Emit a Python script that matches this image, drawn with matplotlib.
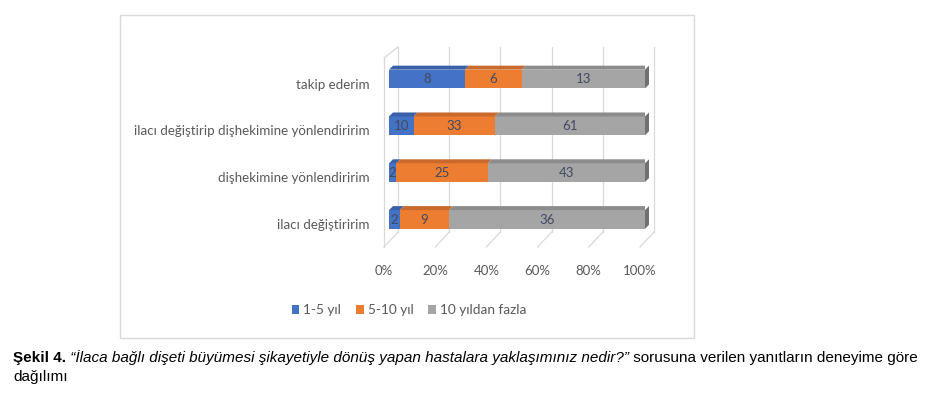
import matplotlib
matplotlib.use('Agg')
import matplotlib.pyplot as plt
from matplotlib.patches import Polygon, Rectangle, Patch
from matplotlib.transforms import ScaledTranslation

categories = ["ilacı değiştiririm", "dişhekimine yönlendiririm",
              "ilacı değiştirip dişhekimine yönlendiririm", "takip ederim"]
series_names = ["1-5 yıl", "5-10 yıl", "10 yıldan fazla"]
v_1_5 = [2, 2, 10, 8]
v_5_10 = [9, 25, 33, 6]
v_10p = [36, 43, 61, 13]
xticks = [0, 20, 40, 60, 80, 100]
xtick_labels = ["0%", "20%", "40%", "60%", "80%", "100%"]

colors = ['#4472C4', '#ED7D31', '#A5A5A5']
top_colors = ['#3A60AA', '#C96A2C', '#8C8C8C']
side_color = '#707070'
grid_c = '#D9D9D9'
txt_c = '#595959'
lab_c = '#404A60'
FONT = 'Lato'

W, H = 937, 401
fig = plt.figure(figsize=(W / 100, H / 100), dpi=100)


def fx(px):
    return px / W


def fy(py):
    return 1 - py / H


# chart border
fig.patches.append(Rectangle((fx(120), fy(338)), (694 - 120) / W, (338 - 15) / H,
                             transform=fig.transFigure, fill=False,
                             edgecolor='#D9D9D9', linewidth=1.0))

ax_l, ax_r, ax_t, ax_b = 389, 645, 47, 247
ax = fig.add_axes([fx(ax_l), fy(ax_b), (ax_r - ax_l) / W, (ax_b - ax_t) / H])
ylo, yhi = -0.588, 3.684
ax.set_xlim(0, 100)
ax.set_ylim(ylo, yhi)
px_x = 100 / (ax_r - ax_l)
px_y = (yhi - ylo) / (ax_b - ax_t)

for s in ax.spines.values():
    s.set_visible(False)
ax.set_facecolor('none')

# 3D walls / gridlines
y_back_floor = ylo + 15 * px_y
for xt in xticks:
    bx = xt + 9 * px_x
    fxp = xt - 5 * px_x
    ax.plot([bx, bx], [y_back_floor, yhi], color=grid_c, lw=0.9, clip_on=False, zorder=0)
    ax.plot([bx, fxp], [y_back_floor, ylo], color=grid_c, lw=0.9, clip_on=False, zorder=0)
lw_x = -5 * px_x
ax.plot([lw_x, lw_x], [ylo, yhi - 11 * px_y], color=grid_c, lw=0.9, clip_on=False, zorder=0)
ax.plot([lw_x, 9 * px_x], [yhi - 11 * px_y, yhi], color=grid_c, lw=0.9, clip_on=False, zorder=0)

# bars
ypos = list(range(len(categories)))
bh = 0.40
dx, dy = 4 * px_x, 4 * px_y
series = [v_1_5, v_5_10, v_10p]
totals = [a + b + c for a, b, c in zip(v_1_5, v_5_10, v_10p)]
lefts = [0.0] * len(categories)
for si, vals in enumerate(series):
    pct = [v / t * 100 for v, t in zip(vals, totals)]
    ax.barh(ypos, pct, left=lefts, height=bh, color=colors[si], edgecolor='none', zorder=3)
    for i, (p, l, v) in enumerate(zip(pct, lefts, vals)):
        top = ypos[i] + bh / 2
        ax.add_patch(Polygon([(l, top), (l + p, top), (l + p + dx, top + dy), (l + dx, top + dy)],
                             closed=True, facecolor=top_colors[si], edgecolor='none', zorder=3))
        if si == len(series) - 1:
            bot = ypos[i] - bh / 2
            ax.add_patch(Polygon([(l + p, bot), (l + p, top), (l + p + dx, top + dy), (l + p + dx, bot + dy)],
                                 closed=True, facecolor=side_color, edgecolor='none', zorder=3,
                                 clip_on=False))
        ax.text(l + p / 2, ypos[i] - 0.01, str(v), ha='center', va='center', fontsize=9.5,
                color=lab_c, family=FONT, zorder=5)
    lefts = [l + p for l, p in zip(lefts, pct)]

# ticks
ax.set_xticks(xticks)
ax.set_xticklabels(xtick_labels, family=FONT, fontsize=9.5, color=txt_c)
ax.tick_params(axis='x', length=0, pad=13)
for lab in ax.get_xticklabels():
    lab.set_transform(lab.get_transform() + ScaledTranslation(-0.05, 0, fig.dpi_scale_trans))
ax.set_yticks(ypos)
ax.set_yticklabels(categories, family=FONT, fontsize=9.6, color=txt_c)
ax.tick_params(axis='y', length=0, pad=14)
for lab in ax.get_yticklabels():
    lab.set_transform(lab.get_transform() + ScaledTranslation(0, -0.045, fig.dpi_scale_trans))

# legend
handles = [Patch(facecolor=c, edgecolor='none') for c in colors]
fig.legend(handles, series_names, loc='center', bbox_to_anchor=(fx(409), fy(310)), ncol=3,
           frameon=False, handlelength=0.55, handleheight=0.6, handletextpad=0.3,
           columnspacing=1.1, prop={'family': FONT, 'size': 9.8}, labelcolor=txt_c)

# caption
fig.canvas.draw()
renderer = fig.canvas.get_renderer()
cap_font = 'Liberation Sans'
cs = 11.0
parts = [("Şekil 4.", 'bold', 'normal'),
         (" “İlaca bağlı dişeti büyümesi şikayetiyle dönüş yapan hastalara yaklaşımınız nedir?”", 'normal', 'italic'),
         (" sorusuna verilen yanıtların deneyime göre", 'normal', 'normal')]
x0 = fx(13)
for txt, wgt, sty in parts:
    t = fig.text(x0, fy(358), txt, ha='left', va='center', family=cap_font, fontsize=cs,
                 weight=wgt, style=sty, color='black')
    bb = t.get_window_extent(renderer)
    x0 = bb.x1 / W
fig.text(fx(13), fy(377), "dağılımı", ha='left', va='center', family=cap_font, fontsize=cs, color='black')

fig.savefig('out.png', dpi=100, facecolor='white')
